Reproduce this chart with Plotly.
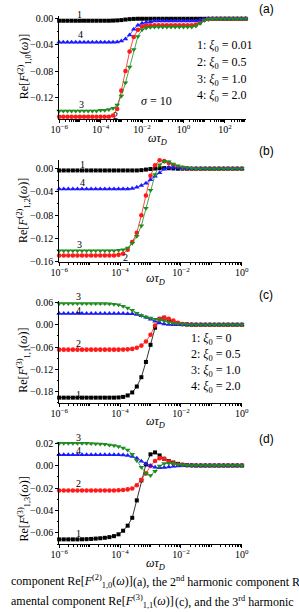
import plotly.graph_objects as go

W, H = 299, 612

# ---------------- data (log10 of omega*tau_D) ----------------
LOGW_A = [-6.0, -5.8, -5.6, -5.4, -5.2, -5.0, -4.8, -4.6, -4.4, -4.2, -4.0, -3.8, -3.6, -3.4, -3.2,
          -3.0, -2.8, -2.6, -2.4, -2.2, -2.0, -1.8, -1.6, -1.4, -1.2, -1.0, -0.8, -0.6, -0.4, -0.2,
          0.0, 0.2, 0.4, 0.6, 0.8, 1.0, 1.2, 1.4, 1.6, 1.8, 2.0, 2.2, 2.4, 2.6, 2.8, 3.0]
LOGW_BCD = [-6.0, -5.85, -5.7, -5.55, -5.4, -5.25, -5.1, -4.95, -4.8, -4.65, -4.5, -4.35, -4.2, -4.05,
            -3.9, -3.75, -3.6, -3.45, -3.3, -3.15, -3.0, -2.85, -2.7, -2.55, -2.4, -2.25, -2.1, -1.95,
            -1.8, -1.65, -1.5, -1.35, -1.2, -1.05, -0.9, -0.75, -0.6, -0.45, -0.3, -0.15, 0.0]

# panel (a): Re[F^(2)_{1,0}]
A1 = [-0.003] * 13 + [-0.0028, -0.0025, -0.002, -0.0012, -0.0006, -0.0002] + [0.0] * 27
A2 = [-0.150] * 12 + [-0.150, -0.148, -0.138, -0.110, -0.080, -0.050, -0.028, -0.017, -0.012, -0.0105] \
     + [-0.010] * 11 + [-0.009, -0.006, -0.002, -0.0005] + [0.0] * 9
A3 = [-0.141] * 10 + [-0.140, -0.140, -0.139, -0.137, -0.132, -0.118, -0.098, -0.074, -0.047, -0.027,
                      -0.017, -0.014, -0.013] + [-0.0125] * 10 + [-0.011, -0.007, -0.0025, -0.0007] + [0.0] * 9
A4 = [-0.036] * 14 + [-0.0355, -0.034, -0.031, -0.025, -0.016, -0.010, -0.007, -0.0055, -0.0045] \
     + [-0.0035] * 10 + [-0.003, -0.002, -0.0008] + [0.0] * 10

# panel (b): Re[F^(2)_{1,2}]
B1 = [-0.003] * 18 + [-0.0025, -0.0015, -0.0005, 0.0003, 0.0008, 0.001, 0.0008, 0.0004] + [0.0] * 15
B2 = [-0.149] * 13 + [-0.148, -0.146, -0.139, -0.126, -0.110, -0.080, -0.046, -0.012, 0.006, 0.0145,
                      0.013, 0.010, 0.006, 0.003, 0.0015, 0.0007] + [0.0] * 12
B3 = [-0.141] * 13 + [-0.140, -0.139, -0.136, -0.128, -0.116, -0.098, -0.068, -0.037, -0.010, 0.007,
                      0.013, 0.012, 0.008, 0.005, 0.003, 0.0015, 0.0007] + [0.0] * 11
B4 = [-0.035] * 16 + [-0.034, -0.032, -0.029, -0.025, -0.019, -0.013, -0.007, -0.001, 0.002, 0.002,
                      0.0015, 0.001, 0.0005] + [0.0] * 12

# panel (c): Re[F^(3)_{1,1}]
C1 = [-0.196] * 13 + [-0.1955, -0.194, -0.190, -0.182, -0.166, -0.141, -0.100, -0.054, -0.008, 0.016,
                      0.019, 0.013, 0.007, 0.003, 0.0015, 0.0007] + [0.0] * 12
C2 = [-0.067] * 14 + [-0.0668, -0.0662, -0.065, -0.062, -0.056, -0.045, -0.027, -0.002, 0.015, 0.019,
                      0.016, 0.011, 0.005, 0.002, 0.001, 0.0004] + [0.0] * 11
C3 = [0.057] * 10 + [0.0568, 0.0562, 0.0553, 0.0535, 0.050, 0.045, 0.039, 0.031, 0.025, 0.021, 0.018,
                     0.015, 0.013, 0.010, 0.007, 0.004, 0.0025, 0.0015, 0.0008, 0.0003] + [0.0] * 11
C4 = [0.030] * 15 + [0.0298, 0.0293, 0.0275, 0.024, 0.020, 0.015, 0.0095, 0.005, 0.002, 0.0005] + [0.0] * 16

# panel (d): Re[F^(3)_{1,3}]
D1 = [-0.0657] * 5 + [-0.0656, -0.0655, -0.0653, -0.065, -0.0647, -0.0643, -0.0637, -0.0628, -0.0612,
                      -0.058, -0.0535, -0.0465, -0.031, -0.0132, 0.001, 0.010, 0.0117, 0.009, 0.006,
                      0.004, 0.0027, 0.0015, 0.0008, 0.0004, 0.0002] + [0.0] * 11
D2 = [-0.0222] * 12 + [-0.0222, -0.022, -0.0217, -0.0212, -0.0204, -0.0175, -0.0126, -0.007, -0.0003,
                       0.004, 0.0066, 0.006, 0.0035, 0.002, 0.001, 0.0005, 0.0002] + [0.0] * 12
D3 = [0.0198] * 7 + [0.0197, 0.0195, 0.0192, 0.0189, 0.0184, 0.0178, 0.017, 0.0157, 0.0138, 0.010,
                     0.0045, -0.0015, -0.007, -0.0088, -0.005, -0.0005, 0.0018, 0.002, 0.0015, 0.001,
                     0.0005, 0.0002] + [0.0] * 12
D4 = [0.0097] * 14 + [0.0095, 0.009, 0.0081, 0.0065, 0.0038, 0.0017, -0.0001, -0.0015, -0.002, -0.0017,
                      -0.0012, -0.0007, -0.0003] + [0.0] * 14

for s in (A1, A2, A3, A4):
    assert len(s) == len(LOGW_A)
for s in (B1, B2, B3, B4, C1, C2, C3, C4, D1, D2, D3, D4):
    assert len(s) == len(LOGW_BCD)

X_A = [10 ** e for e in LOGW_A]
X_B = [10 ** e for e in LOGW_BCD]

COLORS = {1: "#000000", 2: "#ff1a1a", 3: "#1e8c1e", 4: "#1a1aff"}
SYMBOLS = {1: "square", 2: "circle", 3: "triangle-down", 4: "triangle-up"}
SIZES = {1: 4, 2: 4.6, 3: 5, 4: 5}

SERIF = "Liberation Serif"
SANS = "Liberation Sans"


def px(x):
    return x / W


def py(y):
    return 1 - y / H


fig = go.Figure()

panels = [
    ("", X_A, {1: A1, 2: A2, 4: A4, 3: A3}, (53, 250), (12, 117), (-0.1538, 0.0045), 0.04, [-6, 3]),
    ("2", X_B, {1: B1, 2: B2, 4: B4, 3: B3}, (53, 246), (158, 262), (-0.1605, 0.0155), 0.04, [-6, 0]),
    ("3", X_B, {1: C1, 2: C2, 4: C4, 3: C3}, (53, 246), (301, 405), (-0.2105, 0.065), 0.06, [-6, 0]),
    ("4", X_B, {1: D1, 2: D2, 4: D4, 3: D3}, (53, 246), (444.5, 548.5), (-0.0702, 0.021), 0.02, [-6, 0]),
]

layout_axes = {}
for suf, xd, series, xb, yb, yr, dt, xr in panels:
    for k, ys in series.items():
        fig.add_trace(go.Scatter(
            x=xd, y=ys, mode="lines+markers", xaxis="x" + suf, yaxis="y" + suf,
            line=dict(color=COLORS[k], width=0.8),
            marker=dict(symbol=SYMBOLS[k], size=SIZES[k], color=COLORS[k], line=dict(width=0)),
            showlegend=False, cliponaxis=False,
        ))
    tv = [10 ** e for e in range(xr[0], xr[1] + 1, 2)]
    tt = ["10<sup>%s</sup>" % (("−%d" % -e) if e < 0 else str(e)) for e in range(xr[0], xr[1] + 1, 2)]
    minor_vals = []
    for d in range(xr[0], xr[1]):
        for m in range(1, 10):
            v = m * 10 ** d
            if not (m == 1 and (d - xr[0]) % 2 == 0):
                minor_vals.append(v)
    layout_axes["xaxis" + suf] = dict(
        domain=[px(xb[0]), px(xb[1])], anchor="y" + suf, type="log", range=xr,
        tickmode="array", tickvals=tv, ticktext=tt, ticks="outside", ticklen=3, tickwidth=1,
        tickcolor="black", showline=True, linecolor="black", linewidth=1, showgrid=False,
        zeroline=False, tickfont=dict(family=SERIF, size=10, color="black"),
        ticklabelstandoff=-2,
        minor=dict(tickmode="array", tickvals=minor_vals, ticks="outside", ticklen=1.5,
                   tickcolor="black", showgrid=False),
    )
    layout_axes["yaxis" + suf] = dict(
        domain=[py(yb[1]), py(yb[0])], anchor="x" + suf, range=list(yr), tick0=0, dtick=dt,
        tickformat=".2f", ticks="outside", ticklen=3, tickwidth=1, tickcolor="black",
        showline=True, linecolor="black", linewidth=1, showgrid=False, zeroline=False,
        tickfont=dict(family=SERIF, size=10, color="black"),
        minor=dict(dtick=dt / 2, tick0=0, ticks="outside", ticklen=1.5, tickcolor="black", showgrid=False),
    )

ann = []


def text(x, y, s, size=12, family=SERIF, xanchor="center", angle=0):
    ann.append(dict(x=px(x), y=py(y), xref="paper", yref="paper", text=s, showarrow=False,
                    xanchor=xanchor, yanchor="middle", textangle=angle,
                    font=dict(family=family, size=size, color="black")))


# y-axis titles
YT = [("2", "1,0", 64), ("2", "1,2", 210), ("3", "1,1", 362), ("3", "1,3", 513)]
for sup, sub, yc in YT:
    text(16, yc, "Re[<i>F</i><sup>(%s)</sup><sub>%s</sub>(<i>ω</i>)]" % (sup, sub), size=12, angle=-90)

# x-axis titles
for xc, yc in ((157, 137.5), (155, 279), (155, 424), (155, 568)):
    text(xc, yc, "<i>ωτ</i><sub><i>D</i></sub>", size=12)

# panel labels
for lab, yc in (("(a)", 5), ("(b)", 149), ("(c)", 295), ("(d)", 441)):
    text(272, yc, lab, size=12, family=SANS)

# curve numbers
NUMS = [("1", 74, 11), ("4", 76, 31), ("3", 77, 102), ("2", 112, 113),
        ("1", 78, 163), ("4", 78, 181), ("3", 74, 244), ("2", 123, 257),
        ("3", 73, 297), ("4", 73, 311), ("2", 73, 345), ("1", 73, 396),
        ("3", 73, 439.5), ("4", 73, 453), ("2", 73, 487), ("1", 73, 537)]
for s, x, y in NUMS:
    text(x, y, s, size=10)

# legends
for i, (lab, yc) in enumerate((("0.01", 43), ("0.5", 60), ("1.0", 77), ("2.0", 93))):
    text(197, yc, "%d: <i>ξ</i><sub>0</sub> = %s" % (i + 1, lab), size=12, xanchor="left")
text(137, 98, "<i>σ</i> = 10", size=12, xanchor="left")
for i, (lab, yc) in enumerate((("0", 340), ("0.5", 356), ("1.0", 372), ("2.0", 389))):
    text(190, yc, "%d: <i>ξ</i><sub>0</sub> = %s" % (i + 1, lab), size=12, xanchor="left")

# caption fragments
text(0, 586, "component Re[<i>F</i><sup>(2)</sup><sub>1,0</sub>(<i>ω</i>)]", size=12, xanchor="left")
text(129, 586, "(a), the 2<sup>nd</sup> harmonic component R", size=12, xanchor="left")
text(0, 606, "amental component Re[<i>F</i><sup>(3)</sup><sub>1,1</sub>(<i>ω</i>)]", size=12, xanchor="left")
text(173, 606, "(c), and the 3<sup>rd</sup> harmonic", size=12, xanchor="left")

fig.update_layout(
    width=W, height=H, margin=dict(l=0, r=0, t=0, b=0),
    paper_bgcolor="white", plot_bgcolor="white",
    annotations=ann, **layout_axes,
)

fig.write_html("out.html")
